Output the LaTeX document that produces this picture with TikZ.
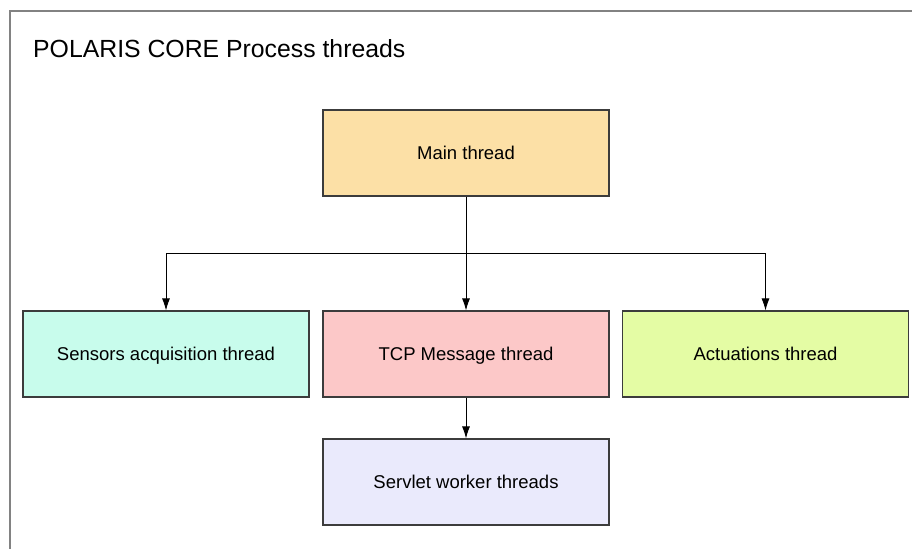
\documentclass[tikz,border=0pt]{standalone}
\usepackage{fontspec}
\setmainfont{Liberation Sans}
\usetikzlibrary{arrows.meta}

\definecolor{mainorange}{RGB}{252,224,166}
\definecolor{sensormint}{RGB}{200,252,236}
\definecolor{tcppink}{RGB}{252,200,200}
\definecolor{actlime}{RGB}{228,252,164}
\definecolor{servletlav}{RGB}{234,234,252}
\definecolor{framegray}{RGB}{130,130,130}
\definecolor{boxedge}{RGB}{60,60,60}

\tikzset{
  thread/.style={draw=boxedge,line width=1.1pt,minimum width=286pt,
    minimum height=86pt,inner sep=0pt,text height=13pt,text depth=0pt,
    font=\fontsize{18.5}{21}\selectfont},
  flow/.style={line width=0.9pt,-{Latex[length=12pt,width=8pt]}}
}

\begin{document}
\begin{tikzpicture}[x=1pt,y=-1pt,line cap=butt,line join=miter]
        \useasboundingbox (0,0) rectangle (912,549);
        \fill[white] (0,0) rectangle (912,549);

        % Marco del proceso
        \draw[framegray,line width=1.8pt] (912,11) -- (10,11) -- (10,549);
        \node[anchor=base west,inner sep=0pt,font=\fontsize{24.8}{28}\selectfont]
            (title) at (33,57) {POLARIS CORE Process threads};

        % Hilos
        \node[thread,fill=mainorange] (main) at (466,153) {Main thread};
        \node[thread,fill=sensormint] (sensors) at (166,354) {Sensors acquisition thread};
        \node[thread,fill=tcppink] (tcp) at (466,354) {TCP Message thread};
        \node[thread,fill=actlime] (act) at (765.5,354) {Actuations thread};
        \node[thread,fill=servletlav] (servlet) at (466,482) {Servlet worker threads};

        % Arranque de hilos
        \coordinate (split) at (466,253);
        \draw[line width=0.9pt] (main.south) -- (split);
        \draw[flow] (split) -| (sensors.north);
        \draw[flow] (split) -- (tcp.north);
        \draw[flow] (split) -| (act.north);
        \draw[flow] (tcp.south) -- (servlet.north);
    \end{tikzpicture}
\end{document}
